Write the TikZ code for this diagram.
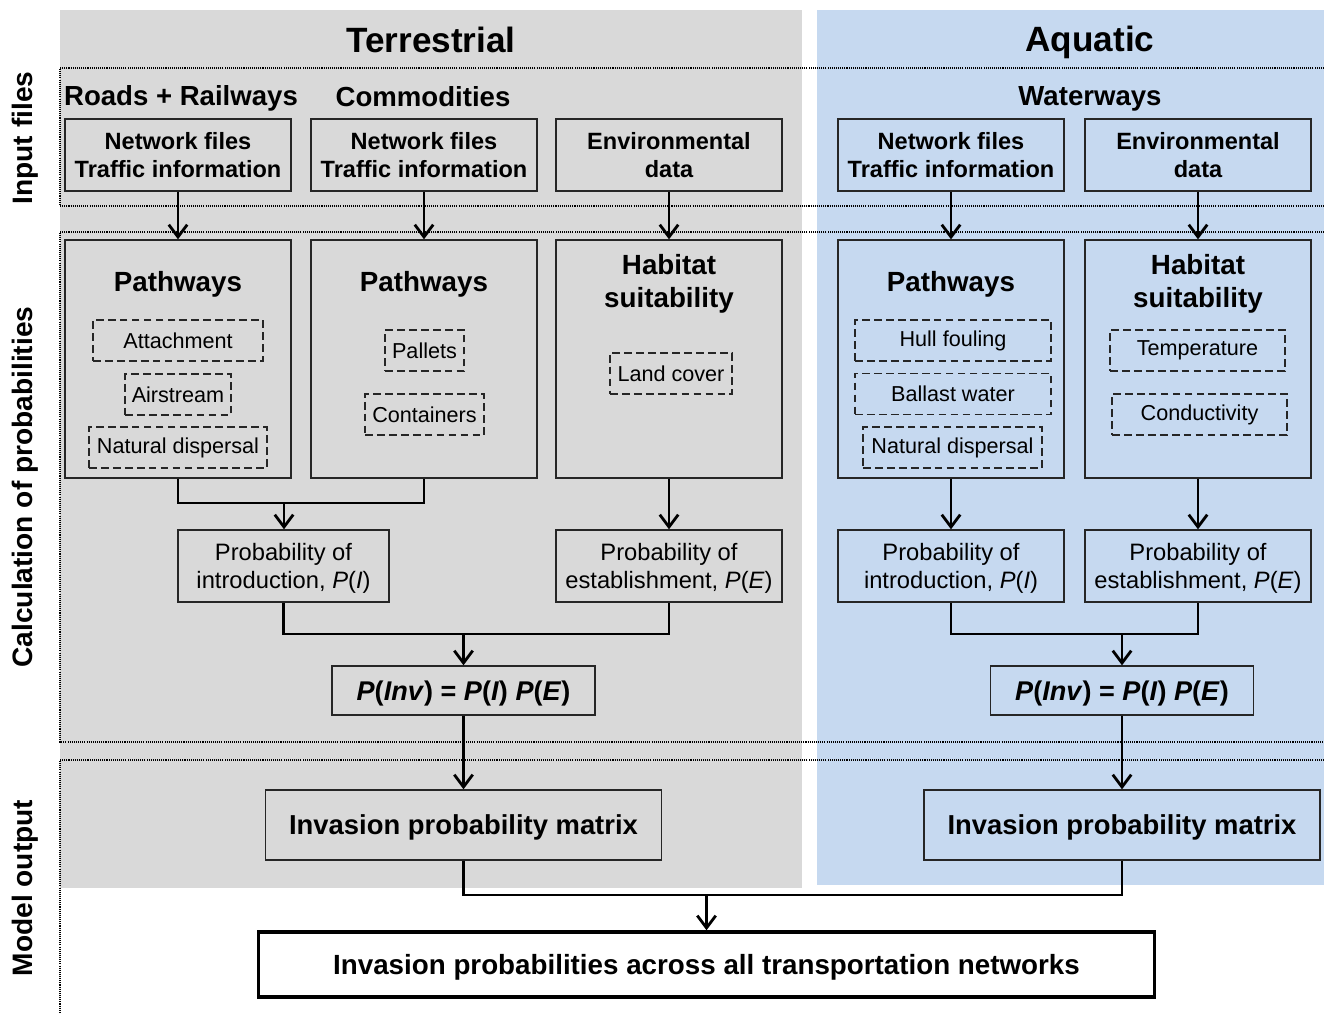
\documentclass[tikz,border=0pt]{standalone}
\usepackage{fontspec}
\setmainfont{Liberation Sans}
\usepackage{tikz}
\usetikzlibrary{arrows.meta}
\definecolor{terrgrey}{RGB}{217,217,217}
\definecolor{aquablue}{RGB}{198,217,240}
\definecolor{boxline}{RGB}{38,38,38}
\tikzset{
    band/.style={draw=black, line width=0.6pt, dash pattern=on 0.6pt off 0.6pt},
    inbox/.style={draw=boxline, line width=0.8pt, minimum width=4.52cm, minimum height=1.44cm,
        align=center, font=\fontsize{13.4}{16.4}\selectfont\bfseries, inner sep=1pt},
    bigbox/.style={draw=boxline, line width=0.8pt, minimum width=4.52cm, minimum height=4.76cm},
    subbox/.style={draw=boxline, line width=0.85pt, dash pattern=on 4.4pt off 2.4pt,
        minimum height=0.82cm, inner sep=1pt, font=\fontsize{12.3}{14}\selectfont},
    probbox/.style={draw=boxline, line width=0.8pt, minimum width=4.52cm, minimum height=1.44cm,
        align=center, font=\fontsize{13.5}{15.9}\selectfont, inner sep=1pt, text depth=0pt},
    invbox/.style={draw=boxline, line width=0.8pt, minimum width=5.26cm, minimum height=0.98cm,
        font=\fontsize{15.4}{18}\selectfont\bfseries, text depth=0pt},
    matbox/.style={draw=boxline, line width=0.8pt, minimum width=7.92cm, minimum height=1.4cm,
        font=\fontsize{15.6}{18}\selectfont\bfseries, text depth=0pt},
    head/.style={font=\fontsize{20}{24}\selectfont\bfseries},
    subhead/.style={font=\fontsize{15.7}{18}\selectfont\bfseries},
    boxhead/.style={align=center, font=\fontsize{15.8}{18.7}\selectfont\bfseries},
    side/.style={rotate=90, font=\fontsize{16}{19}\selectfont\bfseries},
    conn/.style={draw=black, line width=1.6pt},
    arr/.style={conn, -{Straight Barb[length=7pt,width=10.5pt,line width=1.6pt]}}
}

\begin{document}
\begin{tikzpicture}[x=0.02cm, y=-0.02cm]
\useasboundingbox (0,0) rectangle (1324,1013);

% panels
\fill[terrgrey] (60,10) rectangle (802,888);
\fill[aquablue] (817,10) rectangle (1324,885);

% bands
\draw[band] (1324,68) -- (60,68) -- (60,206) -- (1324,206);
\draw[band] (1324,232) -- (60,232) -- (60,742) -- (1324,742);
\draw[band] (1324,760) -- (60,760) -- (60,1013);

\node[side] (lblin) at (25,138) {Input files};
\node[side] (lblcalc) at (25,487) {Calculation of probabilities};
\node[side] (lblout) at (25,888) {Model output};

% headings
\node[head] (terr) at (431,40) {Terrestrial};
\node[head] (aqua) at (1090,42) {Aquatic};
\node[subhead] (roads) at (181,98) {Roads + Railways};
\node[subhead] (comm) at (423,97) {Commodities};
\node[subhead] (water) at (1090,99) {Waterways};

% input files
\node[inbox, fill=terrgrey] (netRR) at (178,155) {Network files\\Traffic information};
\node[inbox, fill=terrgrey] (netCom) at (424,155) {Network files\\Traffic information};
\node[inbox, fill=terrgrey] (envT) at (669,155) {Environmental\\data};
\node[inbox, fill=aquablue] (netW) at (951,155) {Network files\\Traffic information};
\node[inbox, fill=aquablue] (envW) at (1198,155) {Environmental\\data};

% pathways and habitat
\node[bigbox, fill=terrgrey] (pathRR) at (178,359) {};
\node[bigbox, fill=terrgrey] (pathCom) at (424,359) {};
\node[bigbox, fill=terrgrey] (habT) at (669,359) {};
\node[bigbox, fill=aquablue] (pathW) at (951,359) {};
\node[bigbox, fill=aquablue] (habW) at (1198,359) {};

\node[boxhead] (pathRRh) at (178,284) {Pathways};
\node[boxhead] (pathComh) at (424,284) {Pathways};
\node[boxhead] (habTh) at (669,284) {Habitat\\suitability};
\node[boxhead] (pathWh) at (951,284) {Pathways};
\node[boxhead] (habWh) at (1198,284) {Habitat\\suitability};

\node[subbox, minimum width=3.4cm] (att) at (178,340.5) {Attachment};
\node[subbox, minimum width=2.12cm] (air) at (178,394.5) {Airstream};
\node[subbox, minimum width=3.56cm] (natRR) at (178,447.5) {Natural dispersal};
\node[subbox, minimum width=1.58cm] (pal) at (424.5,350.5) {Pallets};
\node[subbox, minimum width=2.38cm] (cont) at (424.5,414.5) {Containers};
\node[subbox, minimum width=2.44cm] (land) at (671,373.5) {Land cover};
\node[subbox, minimum width=3.92cm] (hull) at (953,340.5) {Hull fouling};
\node[subbox, minimum width=3.92cm] (ball) at (953,394) {Ballast water};
\node[subbox, minimum width=3.58cm] (natW) at (952.5,447.5) {Natural dispersal};
\node[subbox, minimum width=3.5cm] (temp) at (1197.5,350.5) {Temperature};
\node[subbox, minimum width=3.5cm] (cond) at (1199.5,414.5) {Conductivity};

% probabilities
\node[probbox, fill=terrgrey, minimum width=4.22cm] (pIT) at (283.5,566) {Probability of\\introduction, \textit{P}(\textit{I})};
\node[probbox, fill=terrgrey] (pET) at (669,566) {Probability of\\establishment, \textit{P}(\textit{E})};
\node[probbox, fill=aquablue] (pIW) at (951,566) {Probability of\\introduction, \textit{P}(\textit{I})};
\node[probbox, fill=aquablue] (pEW) at (1198,566) {Probability of\\establishment, \textit{P}(\textit{E})};

\node[invbox, fill=terrgrey] (invT) at (463.5,690.5) {\textit{P}(\textit{Inv}) = \textit{P}(\textit{I}) \textit{P}(\textit{E})};
\node[invbox, fill=aquablue] (invW) at (1122,690.5) {\textit{P}(\textit{Inv}) = \textit{P}(\textit{I}) \textit{P}(\textit{E})};

\node[matbox, fill=terrgrey] (matT) at (463.5,825) {Invasion probability matrix};
\node[matbox, fill=aquablue] (matW) at (1122,825) {Invasion probability matrix};

\node[draw=black, line width=2pt, fill=white, minimum width=17.92cm, minimum height=1.3cm,
    font=\fontsize{15.8}{18}\selectfont\bfseries, text depth=0pt] (final) at (706.5,964.5)
    {Invasion probabilities across all transportation networks};

% junctions
\coordinate (jT1) at (284,503);
\coordinate (jT2) at (463.5,634);
\coordinate (jW) at (1122,634);
\coordinate (jF) at (706.5,895);

% connectors
\draw[arr] (netRR) -- (pathRR);
\draw[arr] (netCom) -- (pathCom);
\draw[arr] (envT) -- (habT);
\draw[arr] (netW) -- (pathW);
\draw[arr] (envW) -- (habW);

\draw[conn] (pathRR.south) |- (jT1) -| (pathCom.south);
\draw[arr] (jT1) -- (jT1 |- pIT.north);
\draw[arr] (habT) -- (pET);
\draw[arr] (pathW) -- (pIW);
\draw[arr] (habW) -- (pEW);

\draw[conn] (pIT.south) |- (jT2) -| (pET.south);
\draw[arr] (jT2) -- (invT);
\draw[conn] (pIW.south) |- (jW) -| (pEW.south);
\draw[arr] (jW) -- (invW);

\draw[arr] (invT) -- (matT);
\draw[arr] (invW) -- (matW);

\draw[conn] (matT.south) |- (jF) -| (matW.south);
\draw[arr] (jF) -- (final);
\end{tikzpicture}
\end{document}
